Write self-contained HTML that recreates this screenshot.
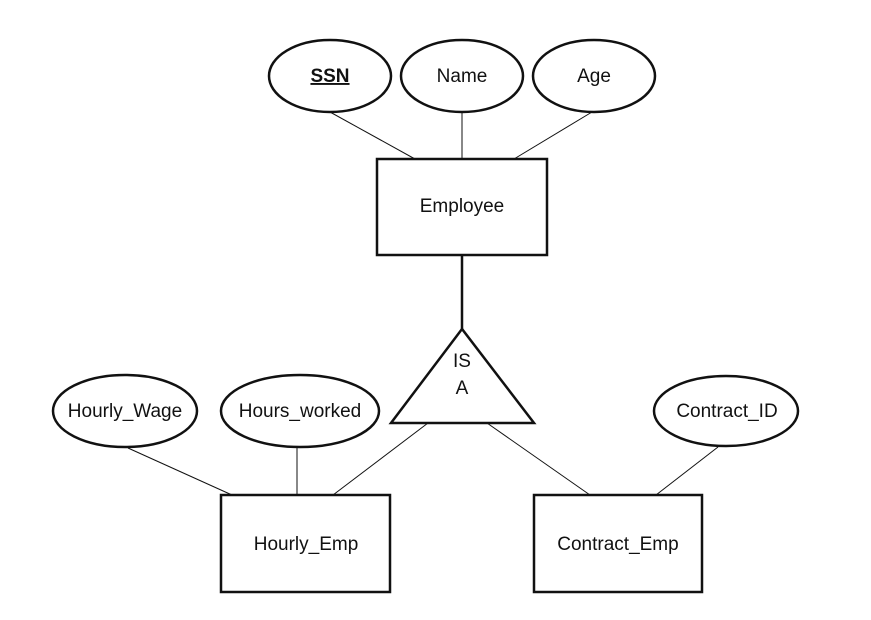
<!DOCTYPE html>
<html><head><meta charset="utf-8"><style>
html,body{margin:0;padding:0;background:#fff;width:871px;height:620px;overflow:hidden}
text{font-family:"Liberation Sans",sans-serif;font-size:19px;fill:#111}
</style></head><body>
<svg width="871" height="620" viewBox="0 0 871 620" xmlns="http://www.w3.org/2000/svg">
<g stroke="#111" fill="none">
<line x1="330" y1="112" x2="415" y2="159" stroke-width="1"/>
<line x1="462" y1="112" x2="462" y2="159" stroke-width="1"/>
<line x1="592" y1="112" x2="514" y2="159" stroke-width="1"/>
<line x1="462" y1="255" x2="462" y2="329" stroke-width="2.5"/>
<line x1="128" y1="448" x2="232" y2="495" stroke-width="1"/>
<line x1="297" y1="448" x2="297" y2="495" stroke-width="1"/>
<line x1="428" y1="423" x2="333" y2="495" stroke-width="1"/>
<line x1="487" y1="423" x2="590" y2="495" stroke-width="1"/>
<line x1="718" y1="447" x2="656" y2="495" stroke-width="1"/>
<g stroke-width="2.5" fill="#fff">
<ellipse cx="330" cy="76" rx="61" ry="36"/>
<ellipse cx="462" cy="76" rx="61" ry="36"/>
<ellipse cx="594" cy="76" rx="61" ry="36"/>
<rect x="377" y="159" width="170" height="96"/>
<polygon points="462,329 391,423 534,423"/>
<ellipse cx="125" cy="411" rx="72" ry="36"/>
<ellipse cx="300" cy="411" rx="79" ry="36"/>
<ellipse cx="726" cy="411" rx="72" ry="35"/>
<rect x="221" y="495" width="169" height="97"/>
<rect x="534" y="495" width="168" height="97"/>
</g></g>
<text x="330" y="82" text-anchor="middle" font-weight="bold" text-decoration="underline">SSN</text>
<text x="462" y="82" text-anchor="middle">Name</text>
<text x="594" y="82" text-anchor="middle">Age</text>
<text x="462" y="212" text-anchor="middle">Employee</text>
<text x="462" y="367" text-anchor="middle">IS</text>
<text x="462" y="394" text-anchor="middle">A</text>
<text x="125" y="417" text-anchor="middle">Hourly_Wage</text>
<text x="300" y="417" text-anchor="middle">Hours_worked</text>
<text x="727" y="417" text-anchor="middle">Contract_ID</text>
<text x="306" y="550" text-anchor="middle">Hourly_Emp</text>
<text x="618" y="550" text-anchor="middle">Contract_Emp</text>
</svg>
</body></html>
